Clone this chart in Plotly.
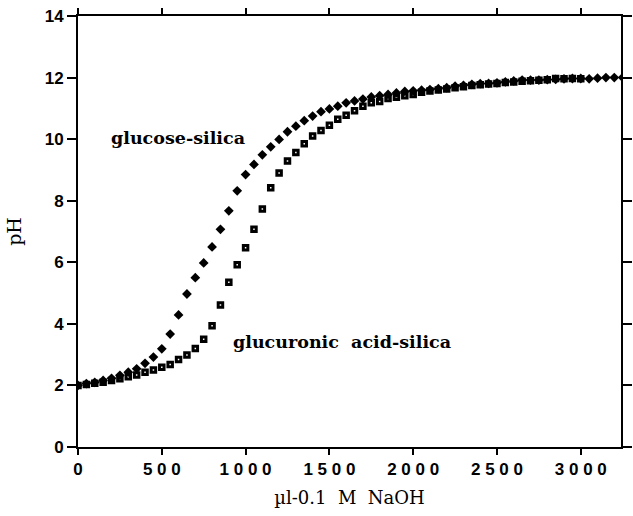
import plotly.graph_objects as go

# glucose-silica (filled diamonds)
glucose_x = list(range(0, 3251, 50))
glucose_ph = [2.00, 2.06, 2.10, 2.16, 2.23, 2.33, 2.43, 2.54, 2.72, 2.92,
              3.19, 3.67, 4.29, 4.97, 5.50, 5.98, 6.50, 7.07, 7.67, 8.32,
              8.85, 9.18, 9.49, 9.75, 9.99, 10.24, 10.42, 10.60, 10.75, 10.89,
              10.98, 11.07, 11.18, 11.24, 11.30, 11.37, 11.41, 11.45, 11.50, 11.55,
              11.57, 11.59, 11.61, 11.64, 11.67, 11.72, 11.75, 11.78, 11.80, 11.81,
              11.83, 11.86, 11.89, 11.92, 11.92, 11.92, 11.93, 11.94, 11.96, 11.97,
              11.97, 11.96, 11.98, 12.00, 12.00, 12.00]

# glucuronic acid-silica (squares with white centre)
glucuronic_x = list(range(0, 3001, 50))
glucuronic_ph = [2.00, 2.03, 2.07, 2.10, 2.16, 2.22, 2.28, 2.34, 2.43, 2.50,
                 2.59, 2.68, 2.84, 2.99, 3.20, 3.50, 3.94, 4.61, 5.35, 5.92,
                 6.47, 7.07, 7.73, 8.42, 8.90, 9.29, 9.57, 9.85, 10.10, 10.28,
                 10.45, 10.65, 10.78, 10.92, 11.07, 11.18, 11.22, 11.32, 11.36, 11.41,
                 11.45, 11.52, 11.56, 11.60, 11.63, 11.67, 11.70, 11.74, 11.77, 11.79,
                 11.81, 11.84, 11.86, 11.88, 11.90, 11.91, 11.93, 11.97, 11.96, 11.97,
                 11.96]

x_tickvals = [0, 500, 1000, 1500, 2000, 2500, 3000]
x_ticktext = ["0", "5 0 0", "1 0 0 0", "1 5 0 0", "2 0 0 0", "2 5 0 0", "3 0 0 0"]
y_tickvals = [0, 2, 4, 6, 8, 10, 12, 14]
y_ticktext = ["0", "2", "4", "6", "8", "10", "12", "14"]

label_font = dict(family="DejaVu Serif", size=17.5, color="black", weight="bold")

fig = go.Figure()
fig.add_trace(go.Scatter(
    x=glucuronic_x, y=glucuronic_ph, mode="markers",
    marker=dict(symbol="square-open", size=4.5, color="black",
                line=dict(color="black", width=3)),
    showlegend=False))
fig.add_trace(go.Scatter(
    x=glucose_x, y=glucose_ph, mode="markers",
    marker=dict(symbol="diamond", size=7.5, color="black"),
    showlegend=False))

fig.add_annotation(x=185, y=10.05, text="glucose-silica", showarrow=False,
                   xref="x", yref="y", xanchor="left", yanchor="middle",
                   font=label_font)
fig.add_annotation(x=915, y=3.4, text="glucuronic&nbsp;&nbsp;acid-silica", showarrow=False,
                   xref="x", yref="y", xanchor="left", yanchor="middle",
                   font=label_font)

fig.update_layout(
    width=633, height=516,
    margin=dict(l=78, r=1, t=16, b=69),
    paper_bgcolor="white", plot_bgcolor="white",
    xaxis=dict(range=[0, 3240], tickvals=x_tickvals, ticktext=x_ticktext,
               showgrid=False, zeroline=False, showline=True, linecolor="black",
               linewidth=2, mirror="ticks", ticks="outside", ticklen=6, tickwidth=1.5,
               tickcolor="black",
               tickfont=dict(family="Liberation Sans", size=17, color="black", weight="bold"),
               title=dict(text="µl-0.1  M  NaOH", standoff=13,
                          font=dict(family="DejaVu Serif", size=18, color="black"))),
    yaxis=dict(range=[0, 14], tickvals=y_tickvals, ticktext=y_ticktext,
               showgrid=False, zeroline=False, showline=True, linecolor="black",
               linewidth=2, mirror="ticks", ticks="outside", ticklen=9, tickwidth=1.5,
               tickcolor="black",
               tickfont=dict(family="Liberation Sans", size=17, color="black", weight="bold"),
               title=dict(text="pH", standoff=18,
                          font=dict(family="DejaVu Serif", size=19, color="black"))),
)

fig.write_html("out.html")
